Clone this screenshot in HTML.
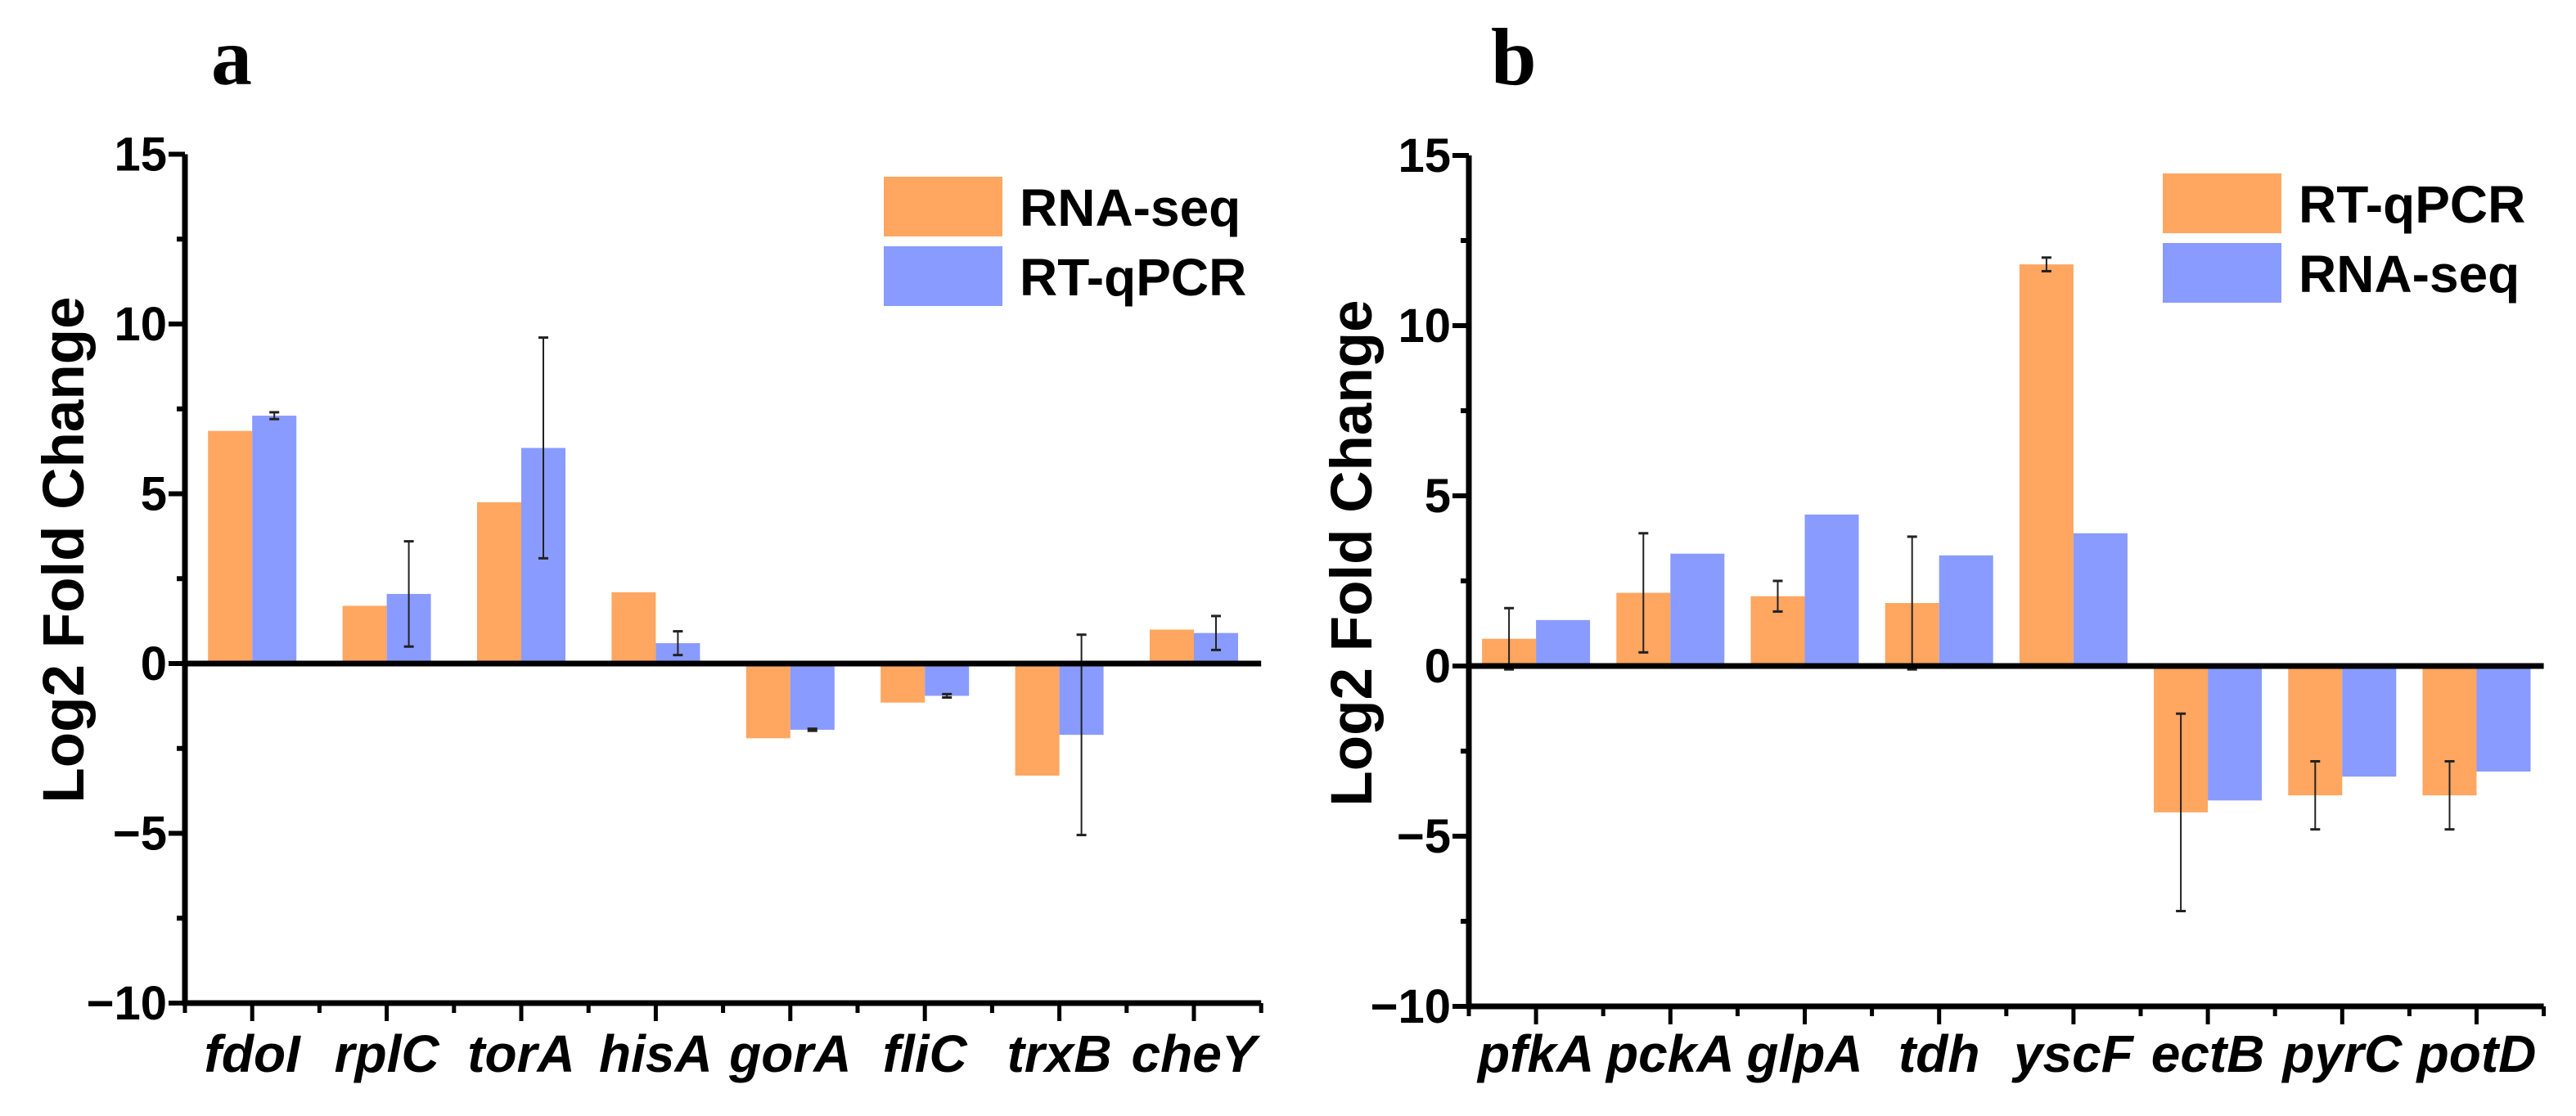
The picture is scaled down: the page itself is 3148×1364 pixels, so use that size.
<!DOCTYPE html>
<html><head><meta charset="utf-8"><style>
html,body{margin:0;padding:0;background:#fff;}
svg{display:block;font-family:"Liberation Sans",Arial,sans-serif;}
</style></head><body>
<svg id="fig" width="3148" height="1364" viewBox="0 0 3148 1364" xmlns="http://www.w3.org/2000/svg"></svg>
<script>
// Panel a data
const catsA = ["fdoI","rplC","torA","hisA","gorA","fliC","trxB","cheY"];
const rnaA = [6.85,1.7,4.75,2.1,-2.2,-1.15,-3.3,1.0];
const qpcrA = [7.3,2.05,6.35,0.6,-1.95,-0.95,-2.1,0.9];
const qpcrErrA = [0.1,1.55,3.25,0.35,0.03,0.05,2.95,0.5];
// Panel b data
const catsB = ["pfkA","pckA","glpA","tdh","yscF","ectB","pyrC","potD"];
const qpcrB = [0.8,2.15,2.05,1.85,11.8,-4.3,-3.8,-3.8];
const qpcrErrB = [0.9,1.75,0.45,1.95,0.2,2.9,1.0,1.0];
const rnaB = [1.35,3.3,4.45,3.25,3.9,-3.95,-3.25,-3.1];
const yTicks = [15,10,5,0,-5,-10];
const yTickLabels = ["15","10","5","0","\u22125","\u221210"];
const yMinor = [12.5,7.5,2.5,-2.5,-7.5];

const NS="http://www.w3.org/2000/svg";
const svg=document.getElementById('fig');
function mk(tag,attrs,parent){const e=document.createElementNS(NS,tag);for(const k in attrs)e.setAttribute(k,attrs[k]);(parent||svg).appendChild(e);return e;}
const ORANGE="#FFA661", BLUE="#899BFF";

function panel(cfg){
  const g=mk('g',{});
  
  
  const y=v=>cfg.y0 - v*cfg.py;
  const x=i=>cfg.x0 + (i+0.5)*cfg.step;
  const xEnd=cfg.x0+cfg.cats.length*cfg.step;
  cfg.cats.forEach((c,i)=>{
    const s=[[cfg.s1,cfg.c1,-1],[cfg.s2,cfg.c2,0]];
    s.forEach(([arr,col,off],k)=>{
      const v=arr[i];
      const bx=x(i)+off*cfg.bw;
      const top=Math.min(y(v),y(0)), h=Math.abs(y(v)-y(0));
      const r=mk('rect',{x:bx,y:top,width:cfg.bw,height:h,fill:col},g);
      
      
    });
    const errArr=cfg.errOn===1?cfg.s1:cfg.s2;
    const ex=x(i)+(cfg.errOn===1?-cfg.bw/2:cfg.bw/2);
    const v=errArr[i], e=cfg.err[i];
    const eg=mk('g',{stroke:'#222','stroke-width':2},g);
    
    
    mk('line',{x1:ex,x2:ex,y1:y(v+e),y2:y(v-e)},eg);
    mk('line',{x1:ex-6,x2:ex+6,y1:y(v+e),y2:y(v+e),'stroke-width':3},eg);
    mk('line',{x1:ex-6,x2:ex+6,y1:y(v-e),y2:y(v-e),'stroke-width':3},eg);
  });
  const zl=mk('line',{x1:cfg.x0,x2:xEnd,y1:y(0),y2:y(0),stroke:'#000','stroke-width':7},g);
  
  
  const ya=mk('line',{x1:cfg.x0,x2:cfg.x0,y1:y(15),y2:y(-10)+3,stroke:'#000','stroke-width':7},g);
  
  
  const xa=mk('line',{x1:cfg.x0-3,x2:xEnd,y1:y(-10),y2:y(-10),stroke:'#000','stroke-width':7},g);
  
  
  yTicks.forEach((t,i)=>{
    mk('line',{x1:cfg.x0-20,x2:cfg.x0,y1:y(t),y2:y(t),stroke:'#000','stroke-width':6},g);
    const tl=mk('text',{x:cfg.x0-22,y:y(t)+20,'text-anchor':'end','font-size':58,'font-weight':'bold'},g);
    tl.textContent=yTickLabels[i];
    
    
  });
  yMinor.forEach(t=>mk('line',{x1:cfg.x0-10,x2:cfg.x0,y1:y(t),y2:y(t),stroke:'#000','stroke-width':6},g));
  for(let i=0;i<=cfg.cats.length;i++){
    mk('line',{x1:cfg.x0+i*cfg.step,x2:cfg.x0+i*cfg.step,y1:y(-10),y2:y(-10)+12,stroke:'#000','stroke-width':5},g);
  }
  cfg.cats.forEach((c,i)=>{
    mk('line',{x1:x(i),x2:x(i),y1:y(-10),y2:y(-10)+22,stroke:'#000','stroke-width':5},g);
    const t=mk('text',{x:x(i),y:1310,'text-anchor':'middle','font-size':64,'font-weight':'bold','font-style':'italic'},g);
    t.textContent=c;
    
    
  });
  const yt=mk('text',{x:0,y:0,'text-anchor':'middle','font-size':71,'font-weight':'bold',transform:`translate(${cfg.titleX},${cfg.titleY}) rotate(-90)`},g);
  yt.textContent='Log2 Fold Change';
  
  
  const pl=mk('text',{x:cfg.letterX,y:103,'font-family':'"Liberation Serif",serif','font-size':100,'font-weight':'bold'},g);
  pl.textContent=cfg.letter;
  
  
  const lg=mk('g',{},g);
  
  
  [[cfg.c1,cfg.l1,cfg.legY],[cfg.c2,cfg.l2,cfg.legY+85]].forEach(([col,lab,ly])=>{
    const e=mk('g',{},lg);
    
    
    mk('rect',{x:cfg.legX,y:ly,width:145,height:73,fill:col},e);
    const t=mk('text',{x:cfg.legX+166,y:ly+60,'font-size':64,'font-weight':'bold'},e);
    t.textContent=lab;
  });
}

panel({name:'panel-a',cats:catsA,x0:226,step:164.4,y0:811,py:41.5,bw:54,
  s1:rnaA,s2:qpcrA,err:qpcrErrA,errOn:2,c1:ORANGE,c2:BLUE,l1:'RNA-seq',l2:'RT-qPCR',
  titleX:102,titleY:672,letter:'a',letterX:258,legX:1080,legY:216});
panel({name:'panel-b',cats:catsB,x0:1795,step:164.2,y0:814,py:41.6,bw:66,
  s1:qpcrB,s2:rnaB,err:qpcrErrB,errOn:1,c1:ORANGE,c2:BLUE,l1:'RT-qPCR',l2:'RNA-seq',
  titleX:1676,titleY:676,letter:'b',letterX:1822,legX:2643,legY:212});
</script>
</body></html>
